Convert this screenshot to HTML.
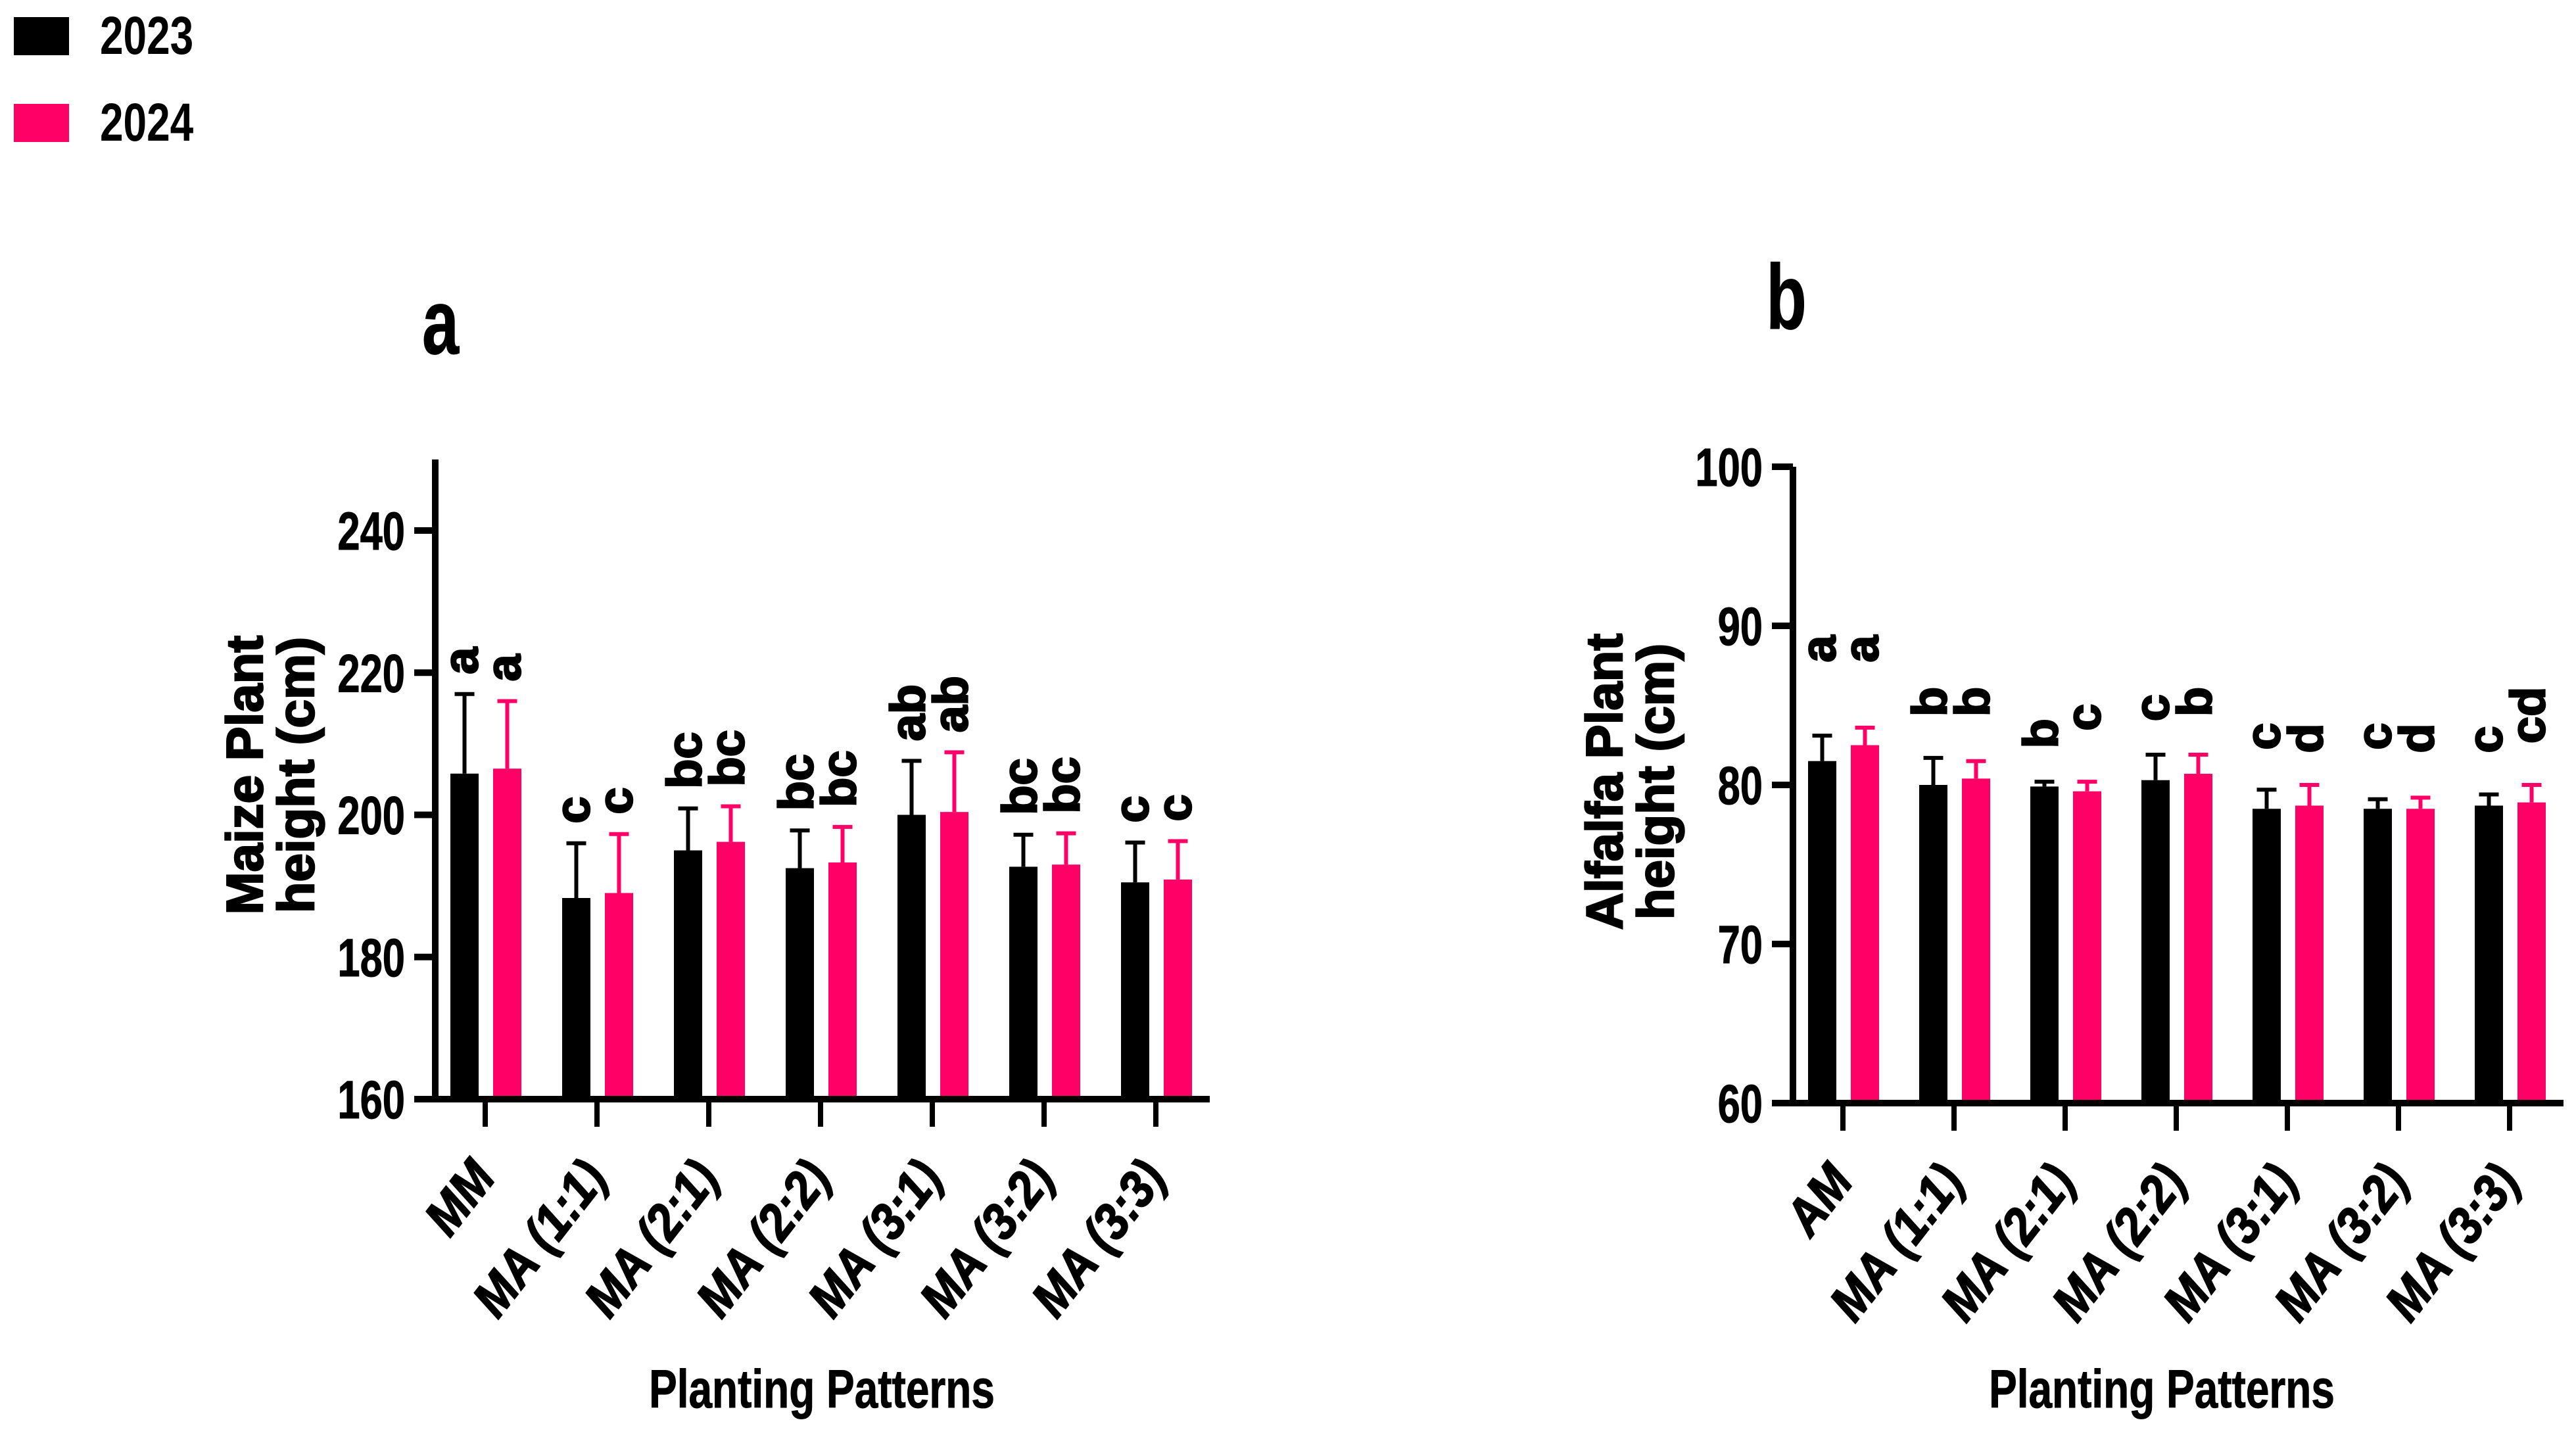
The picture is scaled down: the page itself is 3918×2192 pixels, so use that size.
<!DOCTYPE html>
<html><head><meta charset="utf-8">
<style>
html,body{margin:0;padding:0;background:#fff;}
svg{display:block;}
text{font-family:"Liberation Sans",Arial,sans-serif;font-weight:bold;fill:#000;}
</style></head>
<body>
<svg id="fig" width="3918" height="2192" viewBox="0 0 3918 2192" xmlns="http://www.w3.org/2000/svg">
  <g>
    <rect x="21" y="26" width="84" height="58" fill="#000"/>
    <text font-size="82" transform="translate(152,82) scale(0.78,1)">2023</text>
    <rect x="21" y="158" width="84" height="58" fill="#FF0066"/>
    <text font-size="82" transform="translate(152,214) scale(0.78,1)">2024</text>
  </g>
</svg>
<script>
// ---- data: panel a (Maize) ----
const catsA = ["MM","MA (1:1)","MA (2:1)","MA (2:2)","MA (3:1)","MA (3:2)","MA (3:3)"];
const maize2023 = [205.8,188.3,195.0,192.5,200.0,192.7,190.5];
const maize2024 = [206.5,189.0,196.2,193.3,200.4,193.0,190.9];
const maizeErr2023 = [217.0,196.0,200.9,197.8,207.6,197.2,196.1];
const maizeErr2024 = [216.0,197.3,201.2,198.3,208.8,197.4,196.3];
const maizeLet2023 = ["a","c","bc","bc","ab","bc","c"];
const maizeLet2024 = ["a","c","bc","bc","ab","bc","c"];
const maizeTicks = [160,180,200,220,240];
// ---- data: panel b (Alfalfa) ----
const catsB = ["AM","MA (1:1)","MA (2:1)","MA (2:2)","MA (3:1)","MA (3:2)","MA (3:3)"];
const alf2023 = [81.5,80.0,79.9,80.3,78.5,78.5,78.7];
const alf2024 = [82.5,80.4,79.6,80.7,78.7,78.5,78.9];
const alfErr2023 = [83.1,81.7,80.2,81.9,79.7,79.1,79.4];
const alfErr2024 = [83.6,81.5,80.2,81.9,80.0,79.2,80.0];
const alfLet2023 = ["a","b","b","c","c","c","c"];
const alfLet2024 = ["a","b","c","b","d","d","cd"];
const alfLetPos2023 = [87.7,84.3,82.3,84.0,82.2,82.2,82.0];
const alfLetPos2024 = [87.7,84.3,83.4,84.3,82.0,82.0,82.6];
const alfTicks = [60,70,80,90,100];

const NS="http://www.w3.org/2000/svg";
const svg=document.getElementById('fig');
const PINK="#FF0066";
function mk(tag,attrs,parent){const e=document.createElementNS(NS,tag);for(const k in attrs)e.setAttribute(k,attrs[k]);(parent||svg).appendChild(e);return e;}
function txt(parent,str,x,y,fs,anchor,rot,sx,italic,sw){
  const t=mk('text',{'font-size':fs,'text-anchor':anchor,transform:`translate(${x},${y}) rotate(${rot}) scale(${sx},1)`},parent);
  if(italic)t.setAttribute('font-style','italic');
  if(sw){t.setAttribute('stroke','#000');t.setAttribute('stroke-width',sw);}
  t.textContent=str;return t;
}

function panel(cfg){
  const g=mk('g',{});
  
  
  const y=v=>cfg.y0+(v-cfg.vmin)*(cfg.y1-cfg.y0)/(cfg.vmax-cfg.vmin);
  const xc=i=>cfg.xFirst+i*cfg.step;
  cfg.cats.forEach((c,i)=>{
    [[cfg.s1,cfg.e1,'#000',-53,cfg.l1,'2023',cfg.lp1],[cfg.s2,cfg.e2,PINK,12,cfg.l2,'2024',cfg.lp2]].forEach(([s,e,col,off,lets,yr,lp])=>{
      const bx=xc(i)+off,bw=43,top=y(s[i]);
      const r=mk('rect',{x:bx,y:top,width:bw,height:cfg.y0-top,fill:col},g);
      
      
      const cx=bx+bw/2,et=y(e[i]);
      const el=mk('path',{d:`M${cx},${top} V${et} M${cx-15},${et} H${cx+15}`,stroke:col,'stroke-width':6,fill:'none'},g);
      
      
      const ly=lp?y(lp[i]):et-30;
      const lt=txt(g,lets[i],cx+20,ly,74,'start',-90,1,false,2.5);
      
      
    });
    const tk=mk('line',{x1:xc(i),x2:xc(i),y1:cfg.y0,y2:cfg.y0+42,stroke:'#000','stroke-width':8},g);
    
    
    const cl=txt(g,c,xc(i)+18,cfg.y0+120,78,'end',-52,0.9,true,2);
    
    
  });
  const ya=mk('line',{x1:cfg.axX,x2:cfg.axX,y1:y(cfg.axTop),y2:cfg.y0+5,stroke:'#000','stroke-width':10},g);
  
  
  const xa=mk('line',{x1:cfg.axX-32,x2:cfg.xEnd,y1:cfg.y0,y2:cfg.y0,stroke:'#000','stroke-width':10},g);
  
  
  cfg.ticks.forEach(v=>{
    const t=mk('line',{x1:cfg.axX-32,x2:cfg.axX,y1:y(v),y2:y(v),stroke:'#000','stroke-width':10},g);
    
    
    const l=txt(g,String(v),cfg.axX-46,y(v)+29,82,'end',0,0.75,false,1);
    
    
  });
  const t1=txt(g,cfg.yt1,cfg.ytx1,cfg.ytc,78,'middle',-90,1,false,2.5);
  
  
  const t2=txt(g,cfg.yt2,cfg.ytx2,cfg.ytc,78,'middle',-90,1,false,2.5);
  
  
  const xt=txt(g,'Planting Patterns',cfg.xtc,2141,82,'middle',0,0.78,false,1);
  
  
  const pt=txt(g,cfg.letter,cfg.ptx,cfg.pty,140,'middle',0,0.72,false,1);
  
  
}

panel({name:'chart-a-maize',cats:catsA,s1:maize2023,s2:maize2024,e1:maizeErr2023,e2:maizeErr2024,l1:maizeLet2023,l2:maizeLet2024,
  ticks:maizeTicks,vmin:160,vmax:240,y0:1672,y1:807,axTop:250,axX:662,xFirst:738,step:170,xEnd:1840,
  yt1:'Maize Plant',yt2:'height (cm)',ytx1:399,ytx2:477,ytc:1179,xtc:1250,letter:'a',ptx:670,pty:538});
panel({name:'chart-b-alfalfa',cats:catsB,s1:alf2023,s2:alf2024,e1:alfErr2023,e2:alfErr2024,l1:alfLet2023,l2:alfLet2024,lp1:alfLetPos2023,lp2:alfLetPos2024,
  ticks:alfTicks,vmin:60,vmax:100,y0:1678,y1:710,axTop:100,axX:2727,xFirst:2803,step:169,xEnd:3899,
  yt1:'Alfalfa Plant',yt2:'height (cm)',ytx1:2467,ytx2:2545,ytc:1189,xtc:3288,letter:'b',ptx:2717,pty:500});
</script>
</body></html>
